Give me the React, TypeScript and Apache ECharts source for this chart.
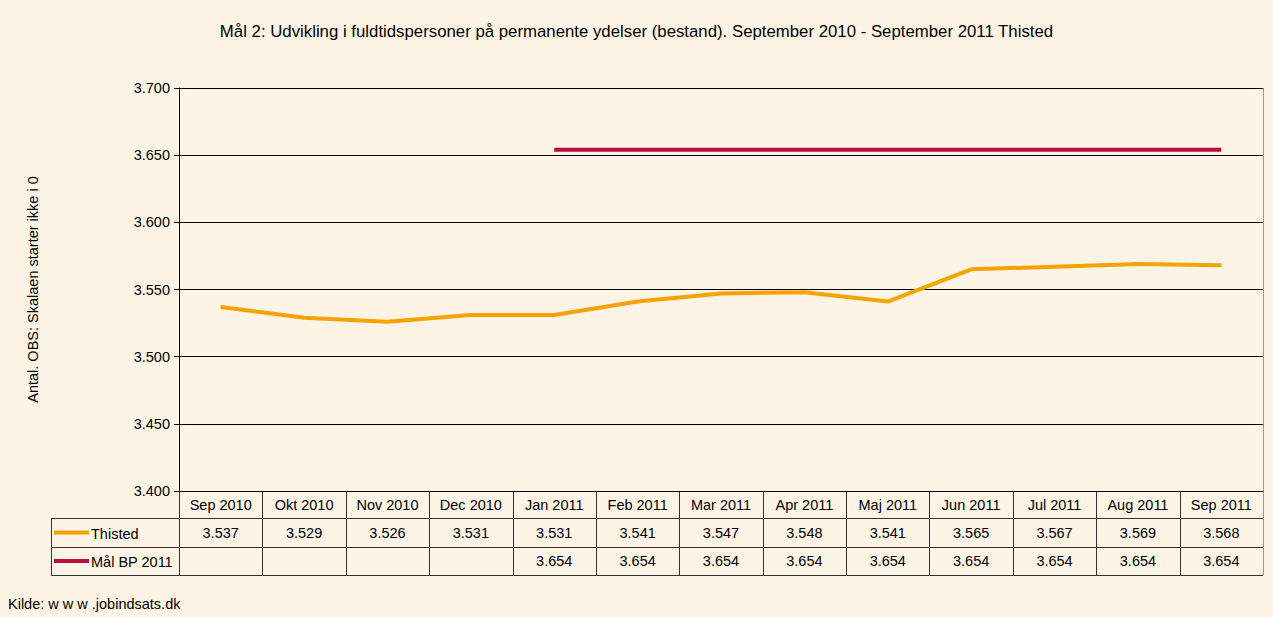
import React, { useEffect, useRef } from "react";
import * as echarts from "echarts";

const categories = ["Sep 2010", "Okt 2010", "Nov 2010", "Dec 2010", "Jan 2011", "Feb 2011", "Mar 2011", "Apr 2011", "Maj 2011", "Jun 2011", "Jul 2011", "Aug 2011", "Sep 2011"];
const thisted = [3537, 3529, 3526, 3531, 3531, 3541, 3547, 3548, 3541, 3565, 3567, 3569, 3568];
const maal = [null, null, null, null, 3654, 3654, 3654, 3654, 3654, 3654, 3654, 3654, 3654];
const seriesNames = ["Thisted", "Mål BP 2011"];
const colors = ["#F5A300", "#B90D3F"];
const titleText = "Mål 2: Udvikling i fuldtidspersoner på permanente ydelser (bestand). September 2010 - September 2011 Thisted";
const yName = "Antal. OBS: Skalaen starter ikke i 0";
const sourceText = "Kilde: w w w .jobindsats.dk";

const FONT = "'Liberation Sans', Arial, sans-serif";
const FS = 14.5;
const fmt = (v: number | null) => (v == null ? "" : (v / 1000).toFixed(3));

export default function App() {
  const ref = useRef<HTMLDivElement>(null);
  useEffect(() => {
    const chart = echarts.init(ref.current!, null, { renderer: "svg" });
    const L = 179, T = 88, W = 1084, H = 403;
    const B = T + H;
    const n = categories.length;
    const colW = W / n;
    const rowY = [B, B + 27, B + 56, B + 84];
    const tableLeft = 51;
    const lineColor = "#333";
    const g: any[] = [];
    for (let i = 0; i <= n; i++) {
      const x = Math.round(L + i * colW) + 0.5;
      g.push({ type: "line", shape: { x1: x, y1: rowY[0], x2: x, y2: rowY[3] }, style: { stroke: i === n ? "#999" : lineColor, lineWidth: 1 }, silent: true });
    }
    for (let r = 1; r <= 3; r++) {
      g.push({ type: "line", shape: { x1: tableLeft, y1: rowY[r] + 0.5, x2: L + W, y2: rowY[r] + 0.5 }, style: { stroke: lineColor, lineWidth: 1 }, silent: true });
    }
    g.push({ type: "line", shape: { x1: tableLeft + 0.5, y1: rowY[1], x2: tableLeft + 0.5, y2: rowY[3] }, style: { stroke: lineColor, lineWidth: 1 }, silent: true });
    g.push({ type: "line", shape: { x1: L + W + 0.5, y1: T, x2: L + W + 0.5, y2: B }, style: { stroke: "#999", lineWidth: 1 }, silent: true });
    seriesNames.forEach((name, i) => {
      const cy = (rowY[i + 1] + rowY[i + 2]) / 2 + 1;
      g.push({ type: "line", shape: { x1: 54, y1: cy - 1, x2: 89, y2: cy - 1 }, style: { stroke: colors[i], lineWidth: 4 }, silent: true });
      g.push({ type: "text", x: 91, y: cy, style: { text: name, font: `${FS}px ${FONT}`, fill: "#000", verticalAlign: "middle", align: "left" }, silent: true });
    });
    g.push({ type: "text", x: 8, y: 604, style: { text: sourceText, font: `${FS}px ${FONT}`, fill: "#000", verticalAlign: "middle" }, silent: true });

    const baseX = {
      type: "category",
      gridIndex: 0,
      position: "bottom",
      boundaryGap: true,
      axisLine: { show: false },
      axisTick: { show: false },
      splitLine: { show: false },
    };
    const lbl = { interval: 0, margin: 6, fontSize: FS, color: "#000", fontFamily: FONT };

    chart.setOption({
      animation: false,
      backgroundColor: "#FEF4E6",
      textStyle: { fontFamily: FONT },
      title: {
        text: titleText,
        left: "center",
        top: 18,
        textStyle: { fontSize: 16.8, fontWeight: "normal", color: "#000", fontFamily: FONT },
      },
      grid: { left: L, top: T, width: W, height: H, containLabel: false },
      xAxis: [
        {
          ...baseX,
          data: categories,
          axisLine: { show: true, lineStyle: { color: "#000", width: 1 } },
          axisLabel: lbl,
        },
        { ...baseX, data: thisted.map(fmt), offset: 28, axisLabel: lbl },
        { ...baseX, data: maal.map(fmt), offset: 56, axisLabel: lbl },
      ],
      yAxis: {
        type: "value",
        min: 3400,
        max: 3700,
        interval: 50,
        name: yName,
        nameLocation: "middle",
        nameRotate: 90,
        nameGap: 139,
        nameTextStyle: { fontSize: FS, color: "#000", fontFamily: FONT },
        axisLine: { show: true, lineStyle: { color: "#000", width: 1 } },
        axisTick: { show: true, length: 5, lineStyle: { color: "#000" } },
        axisLabel: { formatter: (v: number) => fmt(v), fontSize: FS, color: "#000", margin: 9, fontFamily: FONT },
        splitLine: { show: true, lineStyle: { color: "#000", width: 1 } },
      },
      series: [
        { name: seriesNames[0], type: "line", data: thisted, symbol: "none", lineStyle: { color: colors[0], width: 4 }, itemStyle: { color: colors[0] } },
        { name: seriesNames[1], type: "line", data: maal, symbol: "none", lineStyle: { color: colors[1], width: 4 }, itemStyle: { color: colors[1] } },
      ],
      graphic: g,
    });
    return () => chart.dispose();
  }, []);
  return <div ref={ref} style={{ position: "fixed", left: 0, top: 0, width: 1273, height: 617 }} />;
}
